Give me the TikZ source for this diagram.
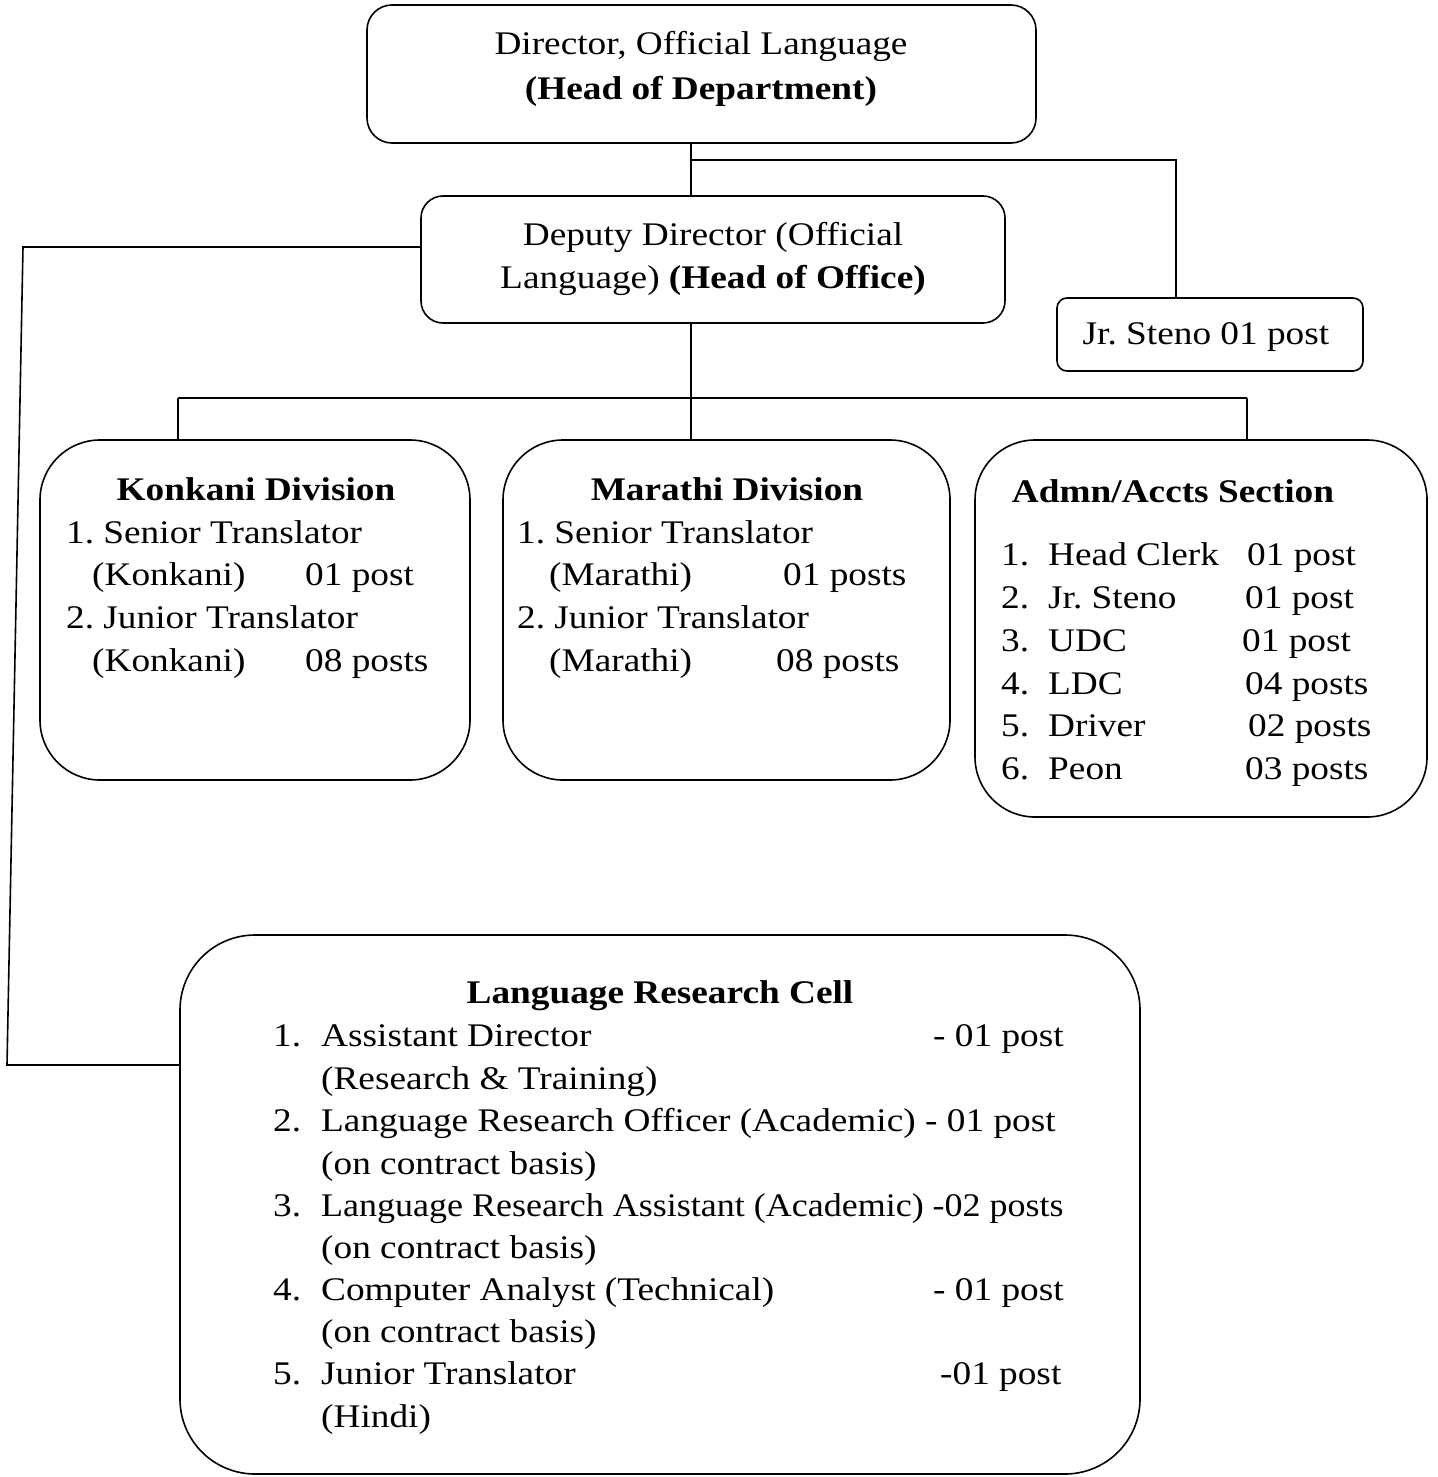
\documentclass[tikz,border=0pt]{standalone}
\usepackage{fontspec}
\setmainfont[FakeStretch=1.13]{Liberation Serif}
\begin{document}
\frenchspacing
\begin{tikzpicture}[x=1pt,y=-1pt,
  box/.style={draw,line width=1.6pt,inner sep=0pt},
  conn/.style={line width=1.6pt},
  txt/.style={anchor=base west,inner sep=0pt,font=\fontsize{33}{43}\selectfont\frenchspacing},
  ctxt/.style={anchor=base,inner sep=0pt,font=\fontsize{33}{43}\selectfont\frenchspacing},
  ltxt/.style={anchor=base west,inner sep=0pt,font=\fontsize{33}{43}\selectfont\frenchspacing}]
\useasboundingbox (0,0) rectangle (1437,1477);
% boxes
\node[box,rounded corners=25pt,minimum width=669pt,minimum height=138pt] (dir) at (701.5,74) {};
\node[box,rounded corners=22pt,minimum width=584pt,minimum height=127pt] (dep) at (713,259.5) {};
\node[box,rounded corners=10pt,minimum width=306pt,minimum height=73pt] (steno) at (1210,334.5) {};
\node[box,rounded corners=60pt,minimum width=430pt,minimum height=340pt] (kon) at (255,610) {};
\node[box,rounded corners=60pt,minimum width=447pt,minimum height=340pt] (mar) at (726.5,610) {};
\node[box,rounded corners=60pt,minimum width=452pt,minimum height=377pt] (adm) at (1201,628.5) {};
\node[box,rounded corners=75pt,minimum width=960pt,minimum height=539pt] (lrc) at (660,1204.5) {};
% connectors
\coordinate (j1) at (691,160);
\coordinate (j2) at (1176,160);
\draw[conn] (j1 |- dir.south) -- (j1 |- dep.north);
\draw[conn] (j1) -- (j2) -- (j2 |- steno.north);
\coordinate (l1) at (23,247);
\coordinate (l2) at (7,1065);
\draw[conn] (dep.west |- l1) -- (l1) -- (l2) -- (l2 -| lrc.west);
\coordinate (b0) at (691,398);
\coordinate (b1) at (178,398);
\coordinate (b3) at (1247,398);
\draw[conn] (b0 |- dep.south) -- (b0) -- (b0 |- mar.north);
\draw[conn] (b1) -- (b3);
\draw[conn] (b1) -- (b1 |- kon.north);
\draw[conn] (b3) -- (b3 |- adm.north);
% top texts
\node[ctxt] (d1) at (701,55) {Director, Official Language};
\node[ctxt] (d2) at (701,100) {\bfseries (Head of Department)};
\node[ctxt] (e1) at (713,245) {Deputy Director (Official};
\node[ctxt] (e2) at (713,288) {Language) \textbf{(Head of Office)}};
\node[ctxt] (s1) at (1206,344) {Jr. Steno 01 post};
% Konkani
\node[ctxt] (k0) at (256,500) {\bfseries Konkani Division};
\node[txt] (k1) at (66,543) {1. Senior Translator};
\node[txt] (k2) at (92,585) {(Konkani)};
\node[txt] (k2b) at (305,585) {01 post};
\node[txt] (k3) at (66,628) {2. Junior Translator};
\node[txt] (k4) at (92,671) {(Konkani)};
\node[txt] (k4b) at (305,671) {08 posts};
% Marathi
\node[ctxt] (m0) at (727,500) {\bfseries Marathi Division};
\node[txt] (m1) at (517,543) {1. Senior Translator};
\node[txt] (m2) at (549,585) {(Marathi)};
\node[txt] (m2b) at (783,585) {01 posts};
\node[txt] (m3) at (517,628) {2. Junior Translator};
\node[txt] (m4) at (549,671) {(Marathi)};
\node[txt] (m4b) at (776,671) {08 posts};
% Admn
\node[ctxt] (a0) at (1173,502) {\bfseries Admn/Accts Section};
\foreach \n/\nm/\c/\cx/\y in {1/Head Clerk/01 post/1247/565,
  2/Jr. Steno/01 post/1245/608,
  3/UDC/01 post/1242/651,
  4/LDC/04 posts/1245/694,
  5/Driver/02 posts/1248/736,
  6/Peon/03 posts/1245/779}{
  \node[txt] (an\n) at (1001,\y) {\n.};
  \node[txt] (at\n) at (1048,\y) {\nm};
  \node[txt] (ac\n) at (\cx,\y) {\c};
}
% LRC
\node[ctxt] (r0) at (660,1003) {\bfseries Language Research Cell};
\node[ltxt] (rn1) at (273,1046) {1.};
\node[ltxt] (rt1) at (321,1046) {Assistant Director};
\node[ltxt] (rc1) at (933,1046) {- 01 post};
\node[ltxt] (rt1b) at (321,1089) {(Research \& Training)};
\node[ltxt] (rn2) at (273,1131) {2.};
\node[ltxt] (rt2) at (321,1131) {Language Research Officer (Academic) - 01 post};
\node[ltxt] (rt2b) at (321,1174) {(on contract basis)};
\node[ltxt] (rn3) at (273,1216) {3.};
\node[ltxt] (rt3) at (321,1216) {\scalebox{0.965}[1]{Language Research Assistant (Academic) -02 posts}};
\node[ltxt] (rt3b) at (321,1258) {(on contract basis)};
\node[ltxt] (rn4) at (273,1300) {4.};
\node[ltxt] (rt4) at (321,1300) {Computer Analyst (Technical)};
\node[ltxt] (rc4) at (933,1300) {- 01 post};
\node[ltxt] (rt4b) at (321,1342) {(on contract basis)};
\node[ltxt] (rn5) at (273,1384) {5.};
\node[ltxt] (rt5) at (321,1384) {Junior Translator};
\node[ltxt] (rc5) at (940,1384) {-01 post};
\node[ltxt] (rt5b) at (321,1427) {(Hindi)};
\end{tikzpicture}
\end{document}
